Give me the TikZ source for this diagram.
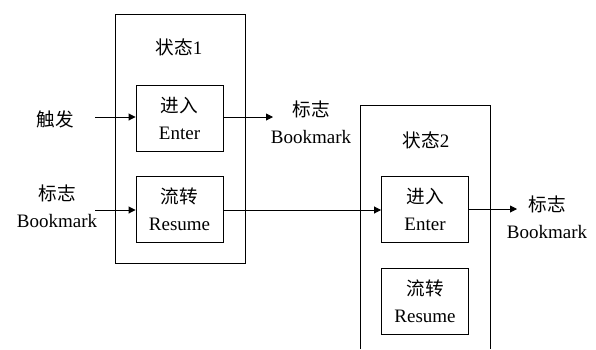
\documentclass[tikz,border=0pt]{standalone}
\usepackage{fontspec}
\setmainfont{Liberation Serif}
\newfontfamily\cjk{Noto Sans CJK SC}[Scale=0.98]
\usetikzlibrary{arrows.meta}
\tikzset{
  box/.style={draw, line width=0.9pt, minimum width=87pt, minimum height=66pt, inner sep=0pt, align=center},
  lbl/.style={align=center, inner sep=0pt},
  arr/.style={-{Triangle[length=7pt,width=7pt]}, line width=0.9pt},
}
\begin{document}
\begin{tikzpicture}[x=1pt,y=-1pt,font=\fontsize{19}{27}\selectfont]
\useasboundingbox (0,0) rectangle (596,349);
% state 1
\node[draw, line width=0.9pt, minimum width=130pt, minimum height=249pt, inner sep=0pt] (s1) at (180,138.5) {};
\node[lbl] (t1) at (179,47) {{\cjk 状态}1};
\node[box] (e1) at (179.5,118) {{\cjk 进入}\\Enter};
\node[box] (r1) at (179.5,209.5) {{\cjk 流转}\\Resume};
% state 2 (open at bottom)
\coordinate (s2bl) at (360,349);
\coordinate (s2tl) at (360,105);
\coordinate (s2tr) at (490,105);
\coordinate (s2br) at (490,349);
\draw[line width=0.9pt] (s2bl) -- (s2tl) -- (s2tr) -- (s2br);
\node[lbl] (t2) at (426,140) {{\cjk 状态}2};
\node[box] (e2) at (425,209.5) {{\cjk 进入}\\Enter};
\node[box] (r2) at (425,301) {{\cjk 流转}\\Resume};
% labels
\node[lbl] (trig) at (55,119) {\cjk 触发};
\node[lbl] (bm0) at (57,206) {{\cjk 标志}\\Bookmark};
\node[lbl] (bm1) at (311,122) {{\cjk 标志}\\Bookmark};
\node[lbl] (bm2) at (547,217) {{\cjk 标志}\\Bookmark};
% connectors
\coordinate (a0) at (95,117);
\coordinate (a1) at (95,210);
\coordinate (a2) at (273,117);
\coordinate (a3) at (517,209);
\draw[arr] (a0) -- (e1.west |- a0);
\draw[arr] (a1) -- (r1.west |- a1);
\draw[arr] (e1.east |- a2) -- (a2);
\draw[arr] (r1.east |- a1) -- (e2.west |- a1);
\draw[arr] (e2.east |- a3) -- (a3);
\end{tikzpicture}
\end{document}
